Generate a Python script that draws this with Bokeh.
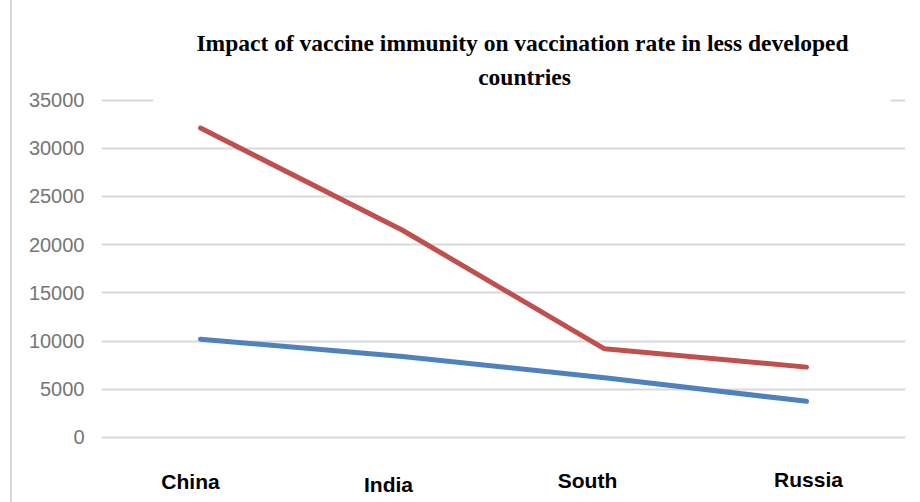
from bokeh.plotting import figure
from bokeh.models import Range1d, FixedTicker, Label, BoxAnnotation, ColumnDataSource
from bokeh.core.properties import value
from bokeh.embed import file_html
from bokeh.resources import INLINE

# ---- data ----
countries = ["China", "India", "South", "Russia"]
series_red = [32100, 21500, 9200, 7300]
series_blue = [10200, 8400, 6200, 3750]
y_ticks = [0, 5000, 10000, 15000, 20000, 25000, 30000, 35000]
title_line1 = "Impact of vaccine immunity on vaccination rate in less developed"
title_line2 = "countries"

# ---- styling / layout (not data) ----
label_dx = [-10, -14, -17, 2]
label_dy = [44, 47, 43, 42]

xs = list(range(len(countries)))

p = figure(width=908, height=502, output_backend="svg", toolbar_location=None,
           x_range=Range1d(-0.49, 3.49), y_range=Range1d(-6743, 45330),
           min_border_left=89, min_border_right=15, min_border_top=0, min_border_bottom=0)
p.margin = (0, 0, 0, 10)
p.styles = {"border-left": "2px solid #d9d9d9"}
p.outline_line_color = None
p.background_fill_color = "white"
p.border_fill_color = "white"

p.xaxis.visible = False
p.xgrid.visible = False
ya = p.yaxis[0]
ya.ticker = FixedTicker(ticks=y_ticks)
ya.axis_line_color = None
ya.major_tick_line_color = None
ya.minor_tick_line_color = None
ya.major_label_standoff = 11
ya.major_label_text_font = "Liberation Sans"
ya.major_label_text_font_size = "20px"
ya.major_label_text_color = "#767676"
p.ygrid.grid_line_color = "#d9d9d9"
p.ygrid.grid_line_width = 2

p.line(xs, series_red, line_color="#c0504d", line_width=5, line_cap="round", line_join="round")
p.line(xs, series_blue, line_color="#4f81bd", line_width=5, line_cap="round", line_join="round")

src = ColumnDataSource(dict(x=xs, y=[0] * len(xs), t=countries, dx=label_dx, dy=label_dy))
p.text(x="x", y="y", text="t", x_offset="dx", y_offset="dy", source=src,
       text_align="center", text_baseline="alphabetic",
       text_font=value("Liberation Sans"), text_font_style="bold",
       text_font_size="21px", text_color="black")

# white title box covering the top gridline
p.add_layout(BoxAnnotation(left=-0.233, right=3.416, bottom=34300, top=42800,
                           fill_color="white", fill_alpha=1.0, line_color=None))

p.add_layout(Label(x=1.5, y=40900, x_offset=19, text=title_line1,
                   text_align="center", text_baseline="middle",
                   text_font="Liberation Serif", text_font_style="bold",
                   text_font_size="23.5px", text_color="black"))
p.add_layout(Label(x=1.5, y=37400, x_offset=21, text=title_line2,
                   text_align="center", text_baseline="middle",
                   text_font="Liberation Serif", text_font_style="bold",
                   text_font_size="23.5px", text_color="black"))

open("out.html", "w").write(file_html(p, INLINE))
